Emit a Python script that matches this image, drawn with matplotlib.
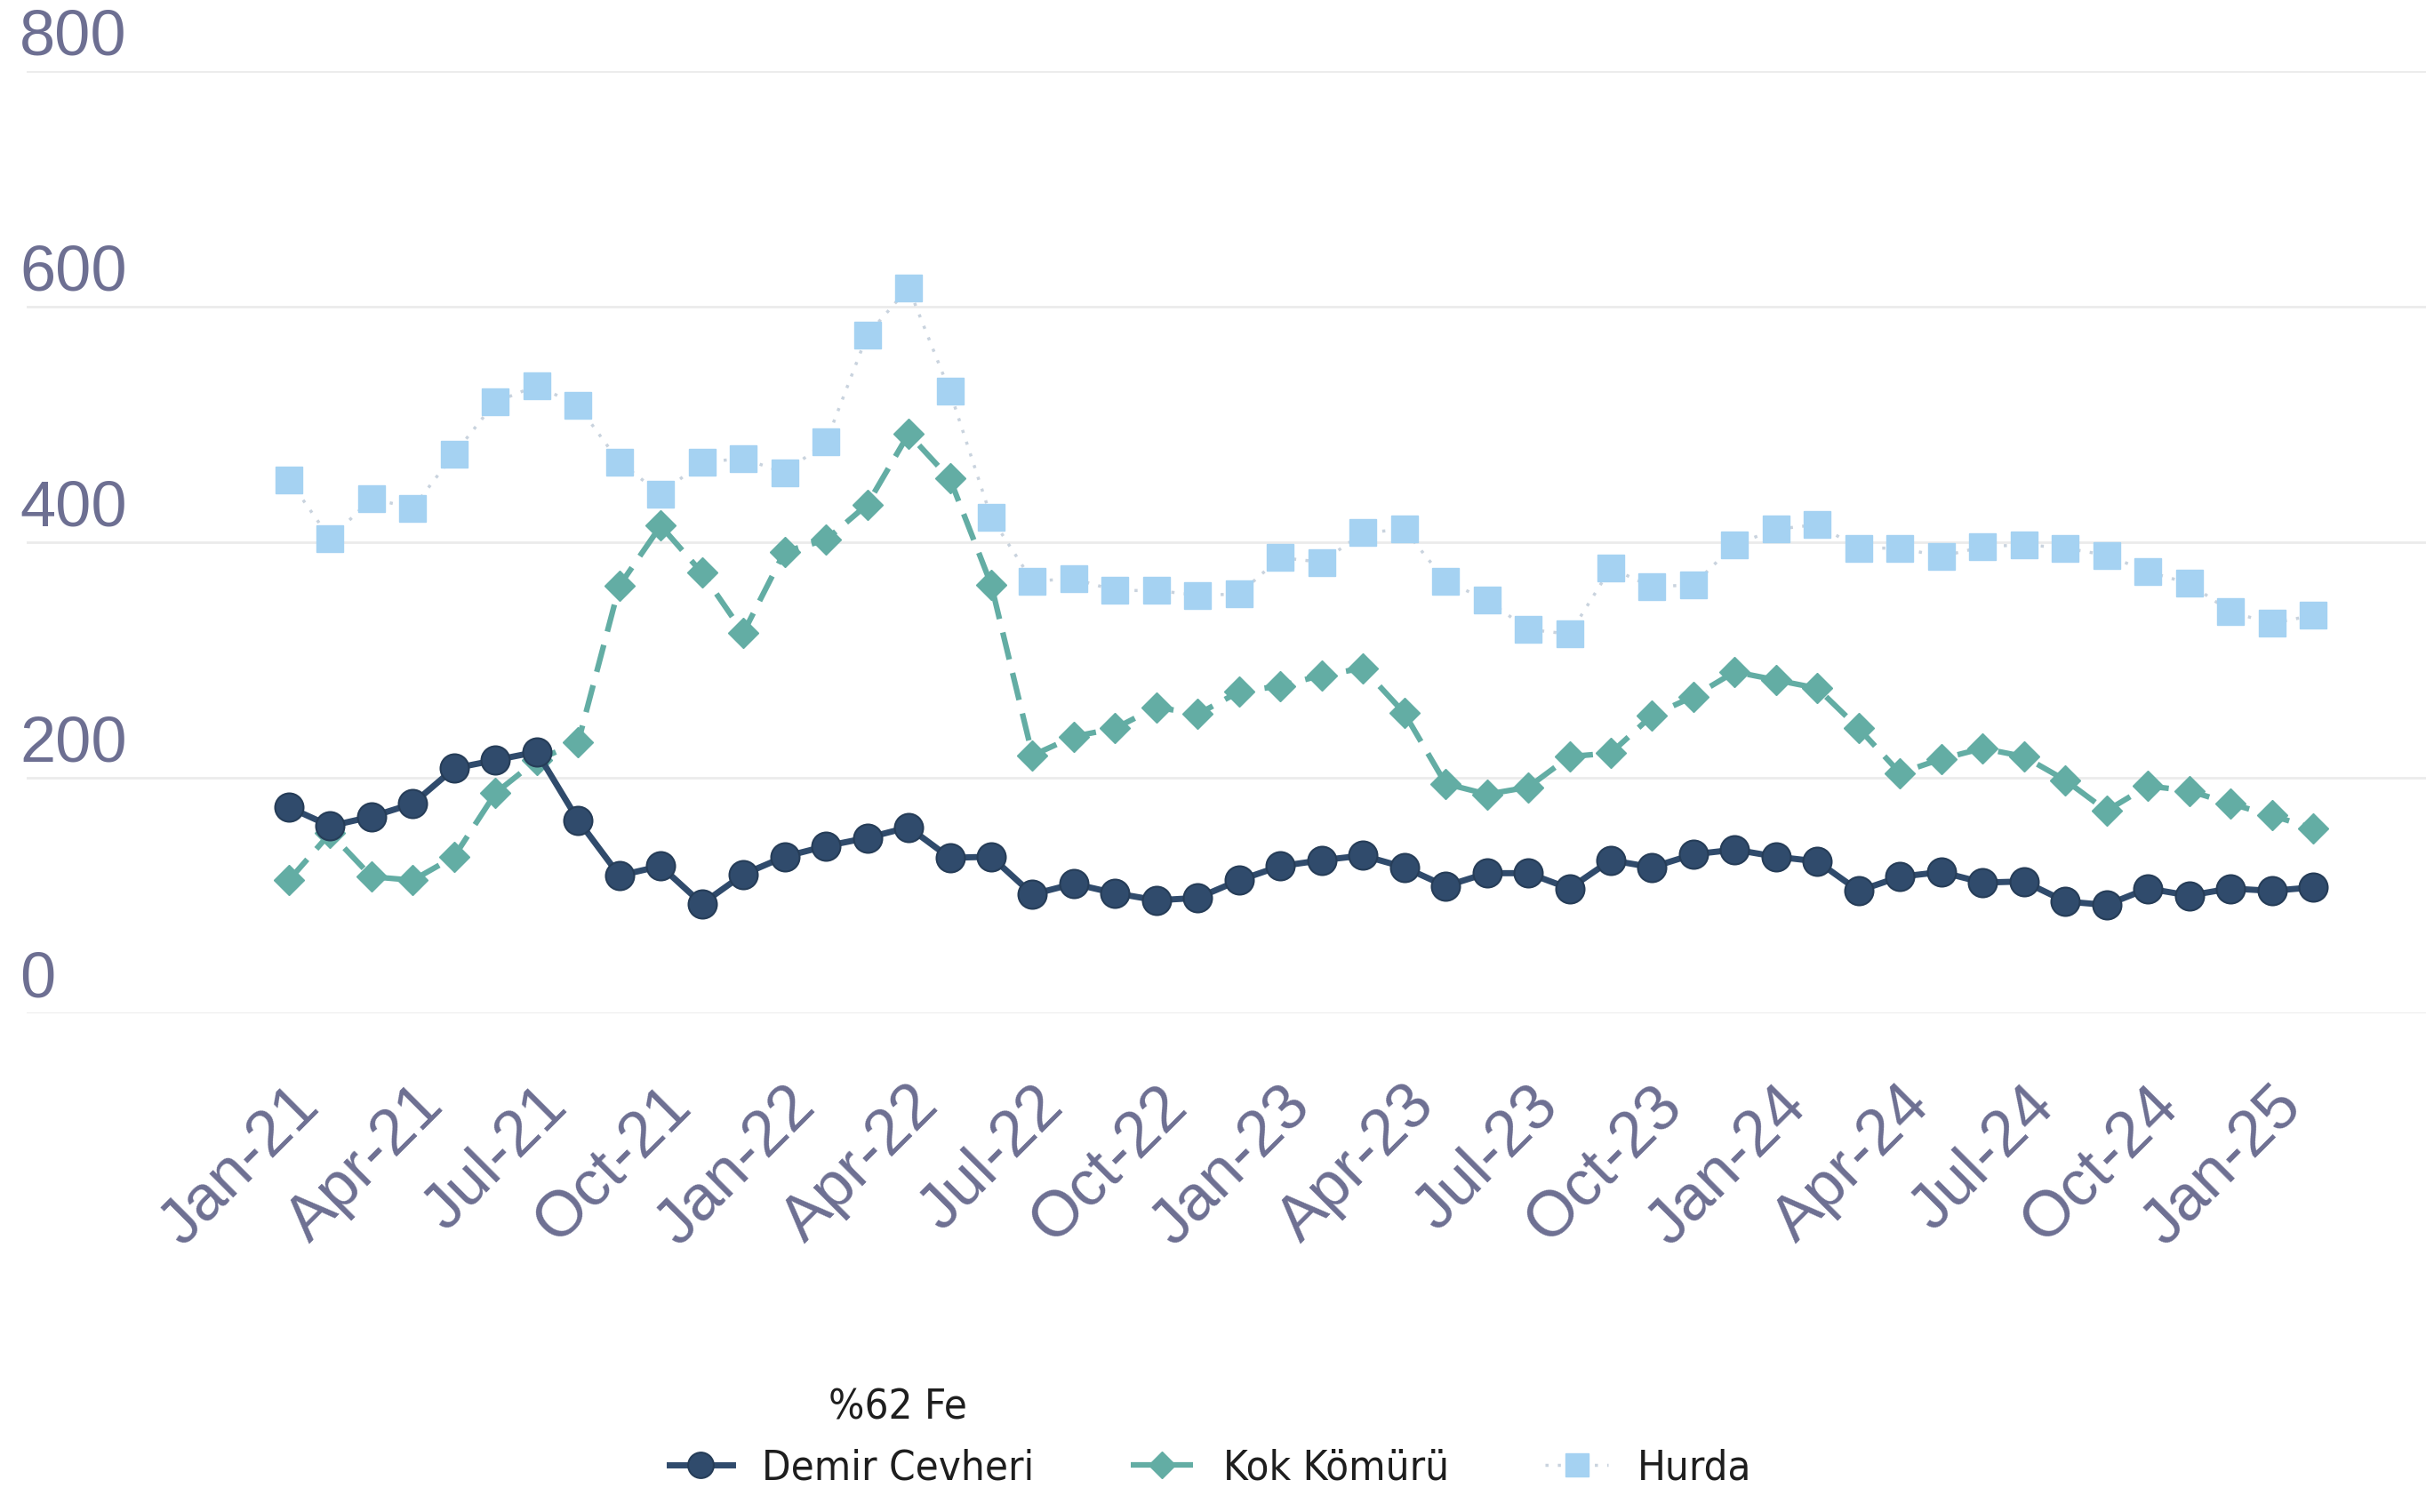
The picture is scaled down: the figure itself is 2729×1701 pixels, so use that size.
import numpy as np
import matplotlib
matplotlib.use("Agg")
import matplotlib.pyplot as plt
import matplotlib.transforms as mtransforms
from matplotlib.font_manager import FontProperties

# ---- data ----
months = ["Jan-21", "Feb-21", "Mar-21", "Apr-21", "May-21", "Jun-21", "Jul-21", "Aug-21", "Sep-21", "Oct-21", "Nov-21", "Dec-21",
          "Jan-22", "Feb-22", "Mar-22", "Apr-22", "May-22", "Jun-22", "Jul-22", "Aug-22", "Sep-22", "Oct-22", "Nov-22", "Dec-22",
          "Jan-23", "Feb-23", "Mar-23", "Apr-23", "May-23", "Jun-23", "Jul-23", "Aug-23", "Sep-23", "Oct-23", "Nov-23", "Dec-23",
          "Jan-24", "Feb-24", "Mar-24", "Apr-24", "May-24", "Jun-24", "Jul-24", "Aug-24", "Sep-24", "Oct-24", "Nov-24", "Dec-24",
          "Jan-25", "Feb-25"]

demir_cevheri = [175, 159, 167, 178, 208, 215, 222, 164, 117, 125, 93, 118,
                 133, 142, 149, 158, 132, 133, 101, 110, 102, 96, 98, 113,
                 125, 130, 134, 124, 108, 119, 119, 106, 130, 124, 135, 139,
                 133, 129, 104, 116, 120, 111, 112, 95, 92, 106, 100, 106,
                 104, 107]

kok_komuru = [113, 153, 116, 113, 133, 187, 215, 230, 363, 414, 374, 323,
              392, 402, 432, 492, 454, 364, 219, 235, 242, 260, 254, 273,
              278, 287, 293, 255, 195, 186, 192, 218, 221, 253, 269, 290,
              283, 276, 242, 204, 216, 225, 218, 198, 172, 193, 189, 178,
              168, 157]

hurda = [453, 403, 437, 429, 475, 519, 533, 516, 468, 441, 468, 471,
         459, 485, 576, 616, 528, 421, 367, 369, 359, 359, 355, 356,
         387, 383, 408, 411, 367, 351, 326, 322, 378, 362, 364, 398,
         411, 415, 395, 395, 388, 396, 398, 395, 389, 375, 365, 341,
         331, 338]

series_labels = ["Demir Cevheri", "Kok Kömürü", "Hurda"]
demir_prefix = "%62 Fe"
y_ticks = [0, 200, 400, 600, 800]
x_tick_labels = months[::3]

# ---- figure ----
W, H, DPI = 2729, 1701, 100
fig = plt.figure(figsize=(W / DPI, H / DPI), dpi=DPI)
fig.patch.set_facecolor("white")

ax_left, ax_right = 30 / W, 1.0
ax_bottom, ax_top = 1 - 1140 / H, 1 - 80 / H
ax = fig.add_axes([ax_left, ax_bottom, ax_right - ax_left, ax_top - ax_bottom])
ax.set_facecolor("white")

x = np.arange(len(months))

c_demir = "#304b6c"
c_kok = "#63ada4"
c_hurda = "#a5d2f2"

ax.plot(x, hurda, color="#c9d3de", lw=2.5, linestyle=(0, (1, 3)),
        marker="s", markersize=21, markerfacecolor=c_hurda, markeredgecolor=c_hurda,
        label=series_labels[2], zorder=3)
ax.plot(x, kok_komuru, color=c_kok, lw=4.5, linestyle=(0, (5, 2.5)),
        marker="D", markersize=17, markerfacecolor=c_kok, markeredgecolor=c_kok,
        label=series_labels[1], zorder=4)
ax.plot(x, demir_cevheri, color=c_demir, lw=5, linestyle="-",
        marker="o", markersize=23, markerfacecolor=c_demir, markeredgecolor="#263d58",
        markeredgewidth=1.5, label=series_labels[0], zorder=5)

# x scale: first point at 325px, last at 2602px
px_first, px_last = 325, 2602
step = (px_last - px_first) / (len(months) - 1)
ax.set_xlim(-(px_first - 30) / step, (len(months) - 1) + (W - px_last) / step)
ax.set_ylim(0, 800)

for s in ax.spines.values():
    s.set_visible(False)

ax.set_yticks(y_ticks)
ax.yaxis.grid(True, color="#ebebeb", lw=2)
ax.set_axisbelow(True)
ax.tick_params(axis="y", length=0, labelleft=False)

label_color = "#6d6f92"
tick_font = FontProperties(family=["Liberation Sans", "DejaVu Sans"], size=52)
# y labels sit above the gridlines at the left edge, as in the reference
trans = mtransforms.blended_transform_factory(fig.transFigure, ax.transData) + \
    mtransforms.ScaledTranslation(0, 4 / DPI, fig.dpi_scale_trans)
for v in y_ticks:
    fig.text(22 / W, v, str(v), transform=trans, ha="left", va="bottom",
             fontproperties=tick_font, color=label_color)

ax.set_xticks(x[::3])
ax.set_xticklabels(x_tick_labels, rotation=45, ha="right", rotation_mode="anchor",
                   fontproperties=tick_font, color=label_color)
ax.tick_params(axis="x", length=0, pad=50)

leg_font = FontProperties(family=["DejaVu Sans"], stretch="condensed", size=34)
handles, labels = ax.get_legend_handles_labels()
order = [2, 1, 0]
leg = fig.legend([handles[i] for i in order], [labels[i] for i in order],
                 loc="center", bbox_to_anchor=(0.499, 1 - 1652 / H), ncol=3, frameon=False,
                 prop=leg_font, handlelength=1.5, handletextpad=0.7,
                 columnspacing=2.3, markerscale=0.9)
for t in leg.get_texts():
    t.set_color("#1e1e1e")

# "%62 Fe" sits centred above "Demir Cevheri"
fig.canvas.draw()
bb = leg.get_texts()[0].get_window_extent(renderer=fig.canvas.get_renderer())
cx = (bb.x0 + bb.x1) / 2 / W
fig.text(cx, 1 - 1584 / H, demir_prefix, ha="center", va="center",
         fontproperties=leg_font, color="#1e1e1e")

fig.savefig("out.png", dpi=DPI, facecolor="white")
